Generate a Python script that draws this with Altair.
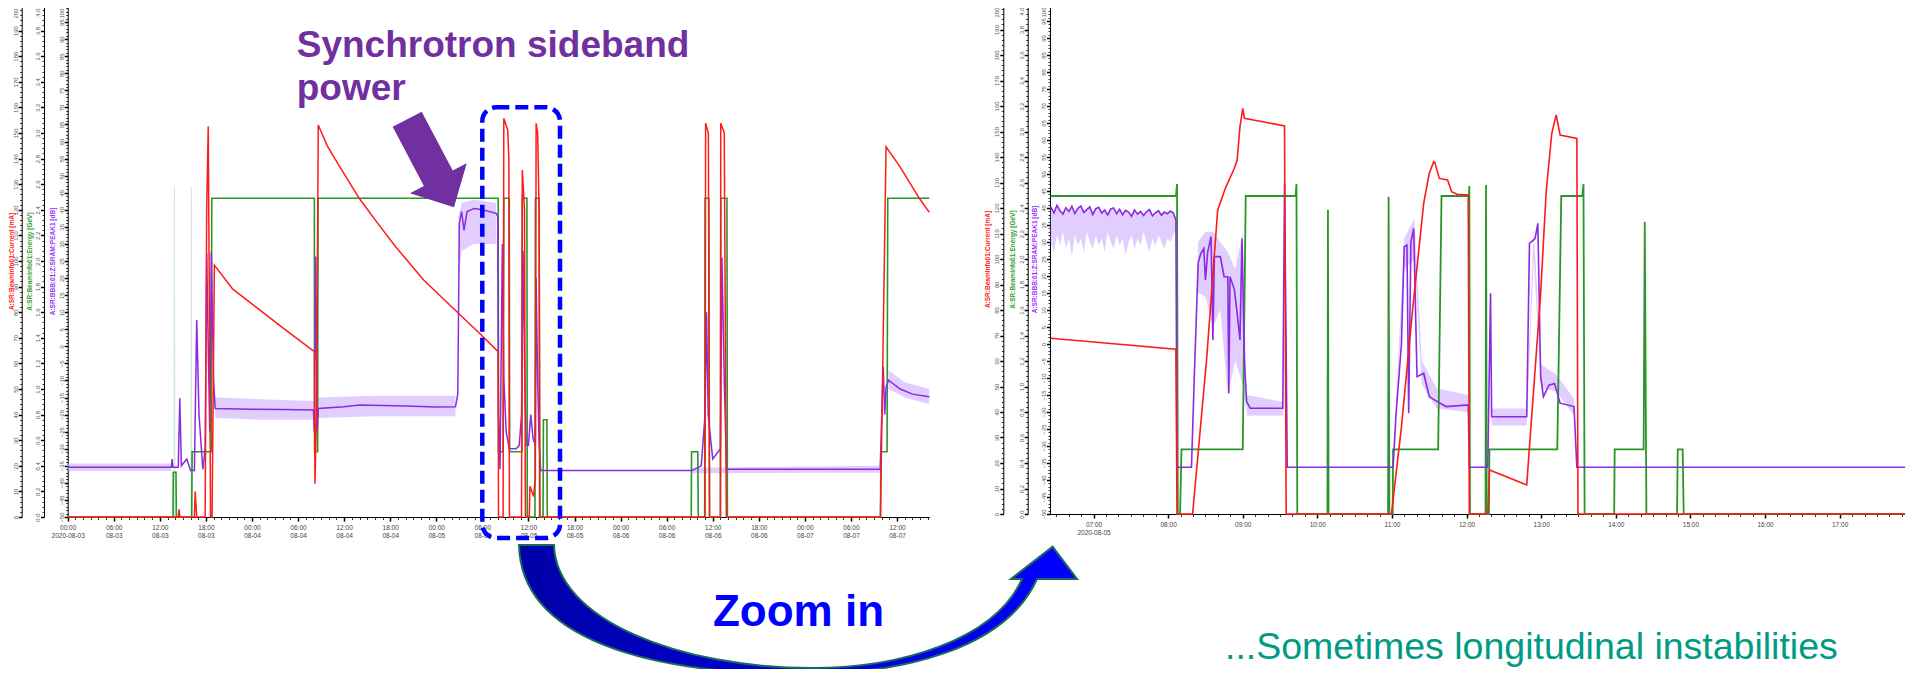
import altair as alt
import pandas as pd

W, H = 1897, 661
FONT = "Liberation Sans"

# ---------------- left panel: (hours after 2020-08-03 00:00, value) ----------------
L_RED = [(0, 0), (14.4, 0), (14.5, 3), (14.6, 0), (16.5, 0), (16.6, 10), (16.8, 0), (17.9, 0),
         (18.1, 120), (18.3, 152.5), (18.5, 60), (18.6, 0), (18.8, 0), (19.1, 98.4), (21.5, 89),
         (24.45, 82.2), (28.1, 73.7), (32.12, 64.6), (32.2, 13), (32.4, 40), (32.63, 153.1),
         (33.8, 145), (35.4, 137), (37.96, 124.5), (40.3, 115), (42.7, 105.6), (46.35, 92.6),
         (50.88, 79.6), (53.65, 71.7), (56.06, 64.6), (56.1, 0), (56.7, 0), (56.79, 155.7),
         (57.3, 151.2), (57.45, 140), (57.52, 0), (59.1, 0), (59.2, 135.5), (59.49, 120),
         (59.6, 0), (60.1, 0), (60.2, 12), (60.66, 8), (60.9, 15), (61.0, 153.8), (61.2, 150),
         (61.39, 118.6), (61.5, 0), (83.0, 0), (83.07, 153.8), (83.43, 150), (83.58, 0), (85.0, 0),
         (85.04, 153.8), (85.5, 150), (85.77, 0), (105.84, 0), (106.57, 144.6), (108.39, 136.8),
         (110.9, 124.5), (112.2, 119)]
L_GREEN = [(0, 0), (13.72, 0), (13.75, 0.35), (14.1, 0.35), (14.15, 0), (16.15, 0), (16.2, 0.51),
           (18.7, 0.51), (18.76, 2.49), (32.12, 2.49), (32.15, 0.51), (32.55, 0.51), (32.6, 2.49),
           (56.06, 2.49), (56.1, 0.51), (56.7, 0.51), (56.79, 2.49), (57.5, 2.49), (57.55, 0.51),
           (59.15, 0.51), (59.2, 2.49), (59.8, 2.49), (59.85, 0), (60.85, 0), (60.9, 2.49),
           (61.4, 2.49), (61.45, 0), (61.9, 0), (61.95, 0.76), (62.4, 0.76), (62.45, 0), (81.2, 0),
           (81.24, 0.51), (82.05, 0.51), (82.12, 0), (82.95, 0), (83.0, 2.49), (83.5, 2.49),
           (83.58, 0), (85.0, 0), (85.05, 2.49), (85.85, 2.49), (85.91, 0), (105.84, 0),
           (105.9, 0.51), (106.7, 0.51), (106.79, 2.49), (112.2, 2.49)]
L_GREEN_FAINT = [(13.85, 0), (13.9, 2.58), (13.95, 0), (16.05, 0), (16.1, 2.58), (16.15, 0)]
L_PURPLE = [(0, -35.4), (13.5, -35.4), (13.6, -33), (13.7, -35.4), (14.4, -35.4), (14.6, -15.2),
            (14.8, -35), (15.5, -33), (16.0, -36.4), (16.5, -36.4), (16.8, 7.7), (17.1, -20),
            (17.6, -36), (17.9, -30), (18.1, 27.3), (18.3, 0), (18.5, -25), (18.7, 27.5), (19.0, -10),
            (19.2, -18.2), (24.0, -18.4), (28.0, -18.5), (32.0, -18.65), (32.12, -25), (32.3, 26.3),
            (32.5, -24.5), (32.63, -18.2), (36.0, -17.7), (38.0, -17.2), (44.0, -17.5), (48.0, -17.8),
            (50.5, -17.7), (50.8, -14), (51.0, 36), (51.3, 39.5), (51.6, 34), (52.0, 39.4),
            (52.9, 40.4), (54.0, 40), (55.8, 38.96), (56.0, 38), (56.1, -20), (56.3, -36), (56.6, 30),
            (56.8, -10), (57.1, -25), (57.5, -30), (58.4, -30), (58.8, -29), (59.1, -20), (59.3, 28),
            (59.5, -5), (59.7, -29), (60.0, -29), (60.3, -20), (60.6, -27), (60.9, -29), (61.0, 20),
            (61.2, -10), (61.4, -29), (61.6, -36.4), (81.3, -36.4), (82.5, -35), (83.0, -20),
            (83.2, 10), (83.4, -20), (84.0, -33), (85.0, -30), (85.2, 26), (85.5, -10), (85.8, -36),
            (105.8, -36), (106.2, -6), (106.4, -20), (106.57, -12), (106.9, -9.9), (108.4, -12.5),
            (110.0, -14), (112.2, -14.8)]
# (hours, low, high, segment) of the light envelope round the dB trace
L_BAND = [(0, -36.5, -34.3, "a"), (13.5, -36.5, -34.3, "a"),
          (19.2, -21, -15, "b"), (25.0, -21.5, -15.5, "b"), (32.0, -21.5, -16, "b"),
          (32.63, -21, -15, "c"), (40.0, -20.5, -14.5, "c"), (50.5, -20.5, -14.5, "c"),
          (50.9, 20, 38, "d"), (51.3, 28, 42, "d"), (52.9, 30, 43, "d"), (55.8, 30, 42, "d"),
          (81.3, -37.2, -35.6, "e"), (105.8, -37, -35, "e"),
          (106.9, -12.5, -7, "f"), (109.0, -15, -10.5, "f"), (112.2, -17, -12.5, "f")]

# ---------------- right panel: (hour of day on 2020-08-05, value) ----------------
R_RED = [(6.425, 68.9), (8.104, 64.6), (8.119, 0), (8.328, 0), (8.515, 60.4), (8.664, 119.2),
         (8.776, 128.4), (8.888, 135.6), (8.925, 138.8), (8.963, 151.9), (9.0, 159.1),
         (9.022, 155.2), (9.56, 152.2), (9.582, 0), (10.993, 0), (11.127, 34.2), (11.276, 80),
         (11.425, 121.8), (11.5, 133.6), (11.56, 138.2), (11.575, 137.8), (11.634, 131.6),
         (11.746, 131.0), (11.799, 126.4), (11.873, 125.4), (12.022, 125.1), (12.037, 0),
         (12.284, 0), (12.306, 17.3), (12.806, 11.4), (12.993, 86.5), (13.067, 126.4),
         (13.142, 149.3), (13.201, 156.5), (13.254, 148.6), (13.478, 147.3), (13.493, 0), (18.0, 0)]
R_GREEN = [(6.425, 2.494), (8.104, 2.494), (8.119, 2.588), (8.13, 0), (8.16, 0), (8.179, 0.507),
           (9.0, 0.507), (9.04, 2.494), (9.709, 2.494), (9.72, 2.588), (9.731, 0), (10.135, 0),
           (10.142, 2.384), (10.15, 0), (10.948, 0), (10.955, 2.489), (10.965, 0), (11.01, 0),
           (11.015, 0.507), (11.619, 0.507), (11.664, 2.494), (12.03, 2.494), (12.037, 2.573),
           (12.045, 0), (12.254, 0), (12.261, 2.58), (12.27, 0), (12.3, 0), (12.306, 0.507),
           (13.216, 0.507), (13.269, 2.494), (13.552, 2.494), (13.567, 2.588), (13.582, 0),
           (13.978, 0), (13.985, 0.507), (14.373, 0.507), (14.388, 2.293), (14.41, 0), (14.821, 0),
           (14.83, 0.507), (14.896, 0.507), (14.91, 0), (18.0, 0)]
R_PURPLE_NOISY_H = [6.425, 6.47, 6.51, 6.55, 6.59, 6.63, 6.67, 6.71, 6.75, 6.79, 6.83, 6.87, 6.91,
                    6.95, 6.99, 7.03, 7.07, 7.11, 7.15, 7.19, 7.23, 7.27, 7.31, 7.35, 7.39, 7.43,
                    7.47, 7.51, 7.55, 7.59, 7.63, 7.67, 7.71, 7.75, 7.79, 7.83, 7.87, 7.91, 7.95,
                    7.99, 8.03, 8.07, 8.104]
R_PURPLE_NOISY_V = [40.4, 38.6, 40.8, 39.2, 38.2, 40.1, 39.0, 40.5, 38.4, 39.9, 40.6, 38.7, 39.5,
                    40.3, 38.1, 39.8, 40.2, 38.5, 39.4, 37.9, 39.7, 40.0, 38.3, 39.6, 38.0, 39.3,
                    38.8, 37.6, 39.4, 38.2, 39.0, 37.8, 38.9, 39.5, 37.7, 38.6, 39.2, 37.9, 38.8,
                    38.3, 39.1, 38.5, 36.5]
R_PURPLE_NOISY_LO = [30, 27, 32, 29, 33, 28, 31, 26, 32, 29, 31, 27, 33, 30, 28, 32, 29, 31, 27, 33,
                     30, 28, 32, 29, 31, 26, 30, 32, 28, 31, 29, 33, 30, 27, 31, 29, 32, 30, 28, 31,
                     30, 32, 34]
R_PURPLE_REST = [(8.119, -36.27), (8.313, -36.27), (8.35, -10), (8.403, 24), (8.44, 26.7),
                 (8.478, 28.1), (8.5, 18.8), (8.53, 27), (8.575, 31.6), (8.6, 1.2), (8.62, 25.7),
                 (8.7, 25.7), (8.75, 19.8), (8.8, 19.8), (8.813, -14.5), (8.83, 19.8), (8.888, 16),
                 (8.925, 9.0), (8.963, 1.2), (8.99, 31.0), (9.022, -4.7), (9.052, -17.0),
                 (9.1, -18.9), (9.537, -18.9), (9.56, 47.3), (9.597, -36.27), (11.015, -36.27),
                 (11.052, -21.4), (11.127, 0), (11.164, 28.6), (11.201, 29.1), (11.224, -20.4),
                 (11.254, 30), (11.291, 34.0), (11.336, -9.6), (11.425, -8.6), (11.5, -15.5),
                 (11.575, -16.5), (11.724, -18.4), (12.022, -17.9), (12.037, -36.27),
                 (12.284, -36.27), (12.321, 14.9), (12.336, -21.4), (12.806, -21.4), (12.843, 29.6),
                 (12.918, 31), (12.955, 35.5), (12.993, -9.6), (13.03, -15.5), (13.104, -12.1),
                 (13.179, -11.6), (13.254, -17.4), (13.44, -18.4), (13.478, -36.27), (18.0, -36.27)]
R_BAND = [(8.4, 15, 30, "b"), (8.5, 14, 33, "b"), (8.6, 5, 33, "b"), (8.7, 10, 30, "b"),
          (8.8, -15, 27, "b"), (8.9, -5, 22, "b"), (9.0, -12, 33, "b"), (9.05, -20, -14, "b"),
          (9.052, -21, -15, "c"), (9.537, -21, -17, "c"),
          (11.05, -23, -19, "d"), (11.164, 22, 31, "d"), (11.3, 25, 37, "d"), (11.4, -12, -5, "d"),
          (11.6, -19, -13, "d"), (12.02, -20, -15, "d"),
          (12.336, -24, -19, "e"), (12.806, -24, -19, "e"), (12.9, 25, 34, "e"), (13.0, -13, -6, "e"),
          (13.2, -14, -9, "e"), (13.44, -21, -16, "e")]

CURRENT_TICKS = list(range(0, 201, 10))
CURRENT_MINOR = list(range(0, 201, 2))
ENERGY_TICKS = [round(0.2 * i, 1) for i in range(21)]
ENERGY_MINOR = [round(0.04 * i, 2) for i in range(101)]
DB_TICKS = list(range(-50, 101, 5))
DB_MINOR = list(range(-50, 101, 1))

TITLE_I = "A:SR:BeamInfo01:Current [mA]"
TITLE_E = "A:SR:BeamInfo01:Energy [GeV]"
TITLE_P = "A:SR:BBB:01:Z:SRAM:PEAK1 [dB]"

RED, GREEN, PURPLE, BAND = "#FF1A1A", "#2A962A", "#8A2BE2", "#C9A6FF"

LBASE = pd.Timestamp("2020-08-03 00:00")
RBASE = pd.Timestamp("2020-08-05 00:00")


def series(base, pairs):
    return pd.DataFrame({"t": [base + pd.Timedelta(hours=h) for h, _ in pairs],
                         "v": [v for _, v in pairs]})


def band_frame(base, rows):
    return pd.DataFrame({"t": [base + pd.Timedelta(hours=r[0]) for r in rows],
                         "lo": [r[1] for r in rows], "hi": [r[2] for r in rows],
                         "seg": [r[3] for r in rows]})


def dt(day, h=0, m=0):
    return alt.DateTime(year=2020, month=8, date=day, hours=h, minutes=m)


# scales (panel placement in pixels of the canvas)
LX = alt.Scale(domain=[dt(3), dt(7, 16, 12)], range=[59.7, 921.3], nice=False)
RX = alt.Scale(domain=[dt(5, 6, 25), dt(5, 17, 59)], range=[1042, 1905], nice=False)
L_BOT, L_TOP = 509, -3
R_BOT, R_TOP = 506, -4


def yscale(dom, bot, top):
    return alt.Scale(domain=dom, range=[bot, top], nice=False, zero=False)


LYI, LYE, LYP = yscale([0, 200], L_BOT, L_TOP), yscale([0, 4], L_BOT, L_TOP), yscale([-50, 100], L_BOT, L_TOP)
RYI, RYE, RYP = yscale([0, 200], R_BOT, R_TOP), yscale([0, 4], R_BOT, R_TOP), yscale([-50, 100], R_BOT, R_TOP)

DUMMY = pd.DataFrame({"t": [LBASE], "v": [0.0]})


def line(df, xs, ys, color, width=1.6, opacity=1.0):
    return alt.Chart(df).mark_line(color=color, strokeWidth=width, opacity=opacity).encode(
        x=alt.X("t:T", scale=xs, axis=None), y=alt.Y("v:Q", scale=ys, axis=None))


def band(df, xs, ys):
    return alt.Chart(df).mark_area(color=BAND, opacity=0.55).encode(
        x=alt.X("t:T", scale=xs, axis=None), y=alt.Y("lo:Q", scale=ys, axis=None),
        y2="hi:Q", detail="seg:N")


LABEL_STYLE = dict(tickColor="black", labelAngle=270, labelBaseline="alphabetic",
                   labelFontSize=6, labelColor="#555", labelPadding=1, labelFont=FONT,
                   labelOverlap=False, labelFlush=False, grid=False, minExtent=0)


def y_axes(ys, xpos, title, tcolor, major, minor, fmt, mid, tx):
    base = alt.Chart(DUMMY).mark_point(opacity=0)
    maj = base.encode(y=alt.Y("v:Q", scale=ys, axis=alt.Axis(
        orient="left", offset=-xpos, values=major[:-1], format=fmt, tickSize=3.5, tickWidth=1.5,
        domainColor="black", domainWidth=1, labelAlign="center",
        title=title, titleColor=tcolor, titleFont=FONT, titleFontSize=6.5,
        titleFontWeight="bold", titleAngle=270, titleAlign="center", titleBaseline="middle",
        titleX=tx, titleY=mid, **LABEL_STYLE)))
    top = base.encode(y=alt.Y("v:Q", scale=ys, axis=alt.Axis(
        orient="left", offset=-xpos, values=major[-1:], format=fmt, tickSize=3.5, tickWidth=1.5,
        domain=False, labelAlign="right", labelOffset=3, title="", **LABEL_STYLE)))
    mnr = base.encode(y=alt.Y("v:Q", scale=ys, axis=alt.Axis(
        orient="left", offset=-xpos, values=minor, labels=False, domain=False, tickSize=2,
        tickWidth=0.8, tickColor="black", grid=False, minExtent=0, title="")))
    return [maj, top, mnr]


def x_axes(xs, ybot, major, minor, expr, minor_size):
    base = alt.Chart(DUMMY).mark_point(opacity=0)
    maj = base.encode(x=alt.X("t:T", scale=xs, axis=alt.Axis(
        orient="bottom", offset=ybot - H, values=major, labelExpr=expr, tickSize=4,
        tickWidth=1.5, tickColor="black", domainColor="black", domainWidth=1.2,
        labelFontSize=6.5, labelColor="#444", labelFont=FONT, labelPadding=3,
        labelLineHeight=8, labelOverlap=False, labelFlush=False, grid=False, title="")))
    mnr = base.encode(x=alt.X("t:T", scale=xs, axis=alt.Axis(
        orient="bottom", offset=ybot - H, values=minor, labels=False, domain=False,
        tickSize=minor_size, tickWidth=0.8, tickColor="black", grid=False, title="")))
    return [maj, mnr]


L_MAJOR = [dt(3 + (6 * i) // 24, (6 * i) % 24) for i in range(19)]
L_MINOR = [dt(3 + i // 24, i % 24) for i in range(113)]
R_MAJOR = [dt(5, h) for h in range(7, 18)]
R_MINOR = [dt(5, m // 60, m % 60) for m in range(6 * 60 + 30, 18 * 60, 10)]
L_EXPR = ("[timeFormat(datum.value, '%H:%M'), (date(datum.value) == 3 && hours(datum.value) == 0)"
          " ? '2020-08-03' : timeFormat(datum.value, '%m-%d')]")
R_EXPR = "hours(datum.value) == 7 ? ['07:00', '2020-08-05'] : timeFormat(datum.value, '%H:%M')"

r_noisy = pd.DataFrame({"t": [RBASE + pd.Timedelta(hours=h) for h in R_PURPLE_NOISY_H],
                        "v": R_PURPLE_NOISY_V})
r_purple = pd.concat([r_noisy, series(RBASE, R_PURPLE_REST)], ignore_index=True)
r_band0 = pd.DataFrame({"t": r_noisy["t"], "lo": R_PURPLE_NOISY_LO,
                        "hi": R_PURPLE_NOISY_V, "seg": "a"})
r_band = pd.concat([r_band0, band_frame(RBASE, R_BAND)], ignore_index=True)

layers = []
# data
layers += [band(band_frame(LBASE, L_BAND), LX, LYP),
           line(series(LBASE, L_GREEN_FAINT), LX, LYE, "#7CCB7C", 1.2, 0.35),
           line(series(LBASE, L_GREEN), LX, LYE, GREEN, 1.6),
           line(series(LBASE, L_PURPLE), LX, LYP, PURPLE, 1.5),
           line(series(LBASE, L_RED), LX, LYI, RED, 1.5)]
layers += [band(r_band, RX, RYP),
           line(series(RBASE, R_GREEN), RX, RYE, GREEN, 1.8),
           line(r_purple, RX, RYP, PURPLE, 1.6),
           line(series(RBASE, R_RED), RX, RYI, RED, 1.6)]
# axes
for xpos_l, xpos_r, ys_l, ys_r, title, col, maj, mnr, fmt, tx_l in [
        (13.7, 995.3, LYI, RYI, TITLE_I, "#FF2020", CURRENT_TICKS, CURRENT_MINOR, "d", -10.5),
        (36.0, 1019.7, LYE, RYE, TITLE_E, "#2E9E2E", ENERGY_TICKS, ENERGY_MINOR, ".1f", -15),
        (59.7, 1042.0, LYP, RYP, TITLE_P, "#9B30FF", DB_TICKS, DB_MINOR, "d", -15)]:
    layers += y_axes(ys_l, xpos_l, title, col, maj, mnr, fmt, (L_BOT + L_TOP) / 2, tx_l)
    layers += y_axes(ys_r, xpos_r, title, col, maj, mnr, fmt, (R_BOT + R_TOP) / 2, -15.5)
layers += x_axes(LX, L_BOT, L_MAJOR, L_MINOR, L_EXPR, 2.5)
layers += x_axes(RX, R_BOT, R_MAJOR, R_MINOR, R_EXPR, 2.5)

# annotations (page pixel geometry, symbol anchored at the page origin)
ANNO = pd.DataFrame({"a": [0]})
PURPLE_ARROW = "M454,207.3 L466.7,163.3 L452.7,170.6 L421.7,111.7 L392.7,126.7 L423.9,186 L410,193.3 Z"
CURVED_ARROW = ("M519,545 C521,640 650,674 803,674 C900,674 1005,650 1037,579 L1077,579 "
                "L1052.6,546.7 L1011,579 L1022,579 C995,640 900,668 812,668 C680,668 556,620 554,545 Z")

layers += [
    alt.Chart(ANNO).mark_rect(fillOpacity=0, stroke="#0000FF", strokeWidth=4.5,
                              strokeDash=[13, 6], cornerRadius=14).encode(
        x=alt.value(474.3), x2=alt.value(552), y=alt.value(99.3), y2=alt.value(530)),
    alt.Chart(ANNO).mark_point(shape=PURPLE_ARROW, size=4, filled=True, color="#7030A0",
                               opacity=1, strokeWidth=0).encode(x=alt.value(-8), y=alt.value(-8)),
    alt.Chart(ANNO).mark_point(
        shape=CURVED_ARROW, size=4, filled=True, opacity=1, stroke="#1B6B5C", strokeWidth=2,
        fill=alt.LinearGradient(gradient="linear", x1=0, x2=1, y1=0, y2=0,
                                stops=[alt.GradientStop(color="#0000A8", offset=0),
                                       alt.GradientStop(color="#0000FF", offset=1)])).encode(
        x=alt.value(-8), y=alt.value(-8)),
    alt.Chart(ANNO).mark_text(text="Synchrotron sideband", align="left", baseline="alphabetic",
                              font=FONT, fontSize=37, fontWeight="bold", color="#7030A0").encode(
        x=alt.value(288.7), y=alt.value(48.7)),
    alt.Chart(ANNO).mark_text(text="power", align="left", baseline="alphabetic",
                              font=FONT, fontSize=37, fontWeight="bold", color="#7030A0").encode(
        x=alt.value(288.7), y=alt.value(92)),
    alt.Chart(ANNO).mark_text(text="Zoom in", align="center", baseline="alphabetic",
                              font=FONT, fontSize=44, fontWeight="bold", color="#0000FF").encode(
        x=alt.value(790.5), y=alt.value(618)),
    alt.Chart(ANNO).mark_text(text="...Sometimes longitudinal instabilities", align="left",
                              baseline="alphabetic", font=FONT, fontSize=37.5,
                              color="#009B84").encode(x=alt.value(1217), y=alt.value(651)),
]

chart = alt.layer(*layers).resolve_scale(x="independent", y="independent").properties(
    width=W, height=H, padding=0, autosize=alt.AutoSizeParams(type="none"),
    background="white").configure_view(strokeWidth=0)

chart.save("out.html", embed_options={"renderer": "svg", "actions": False})
